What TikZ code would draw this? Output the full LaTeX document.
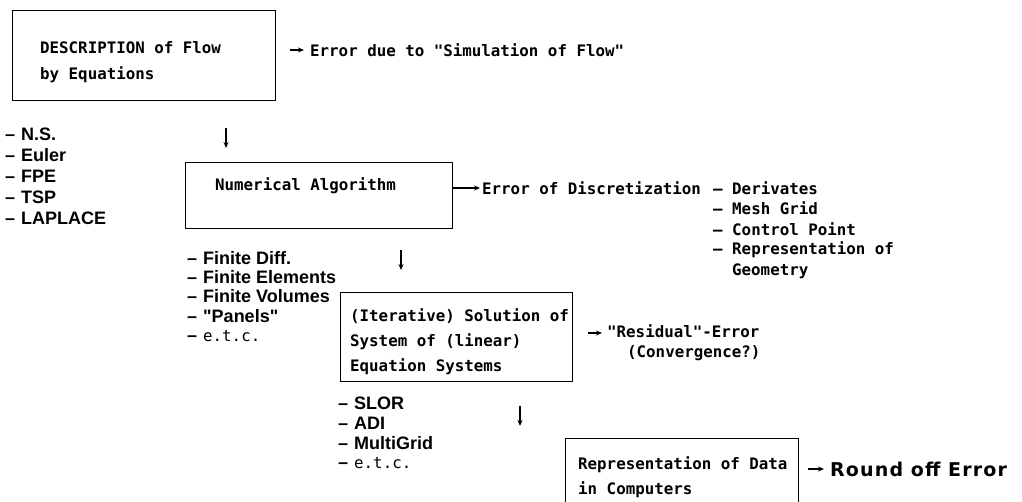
\documentclass[tikz,border=0pt]{standalone}
\usepackage{fontspec}
\setmainfont{Liberation Sans}
\newfontfamily\tw{DejaVu Sans Mono}
\newfontfamily\hs{Liberation Sans}
\newfontfamily\rb{DejaVu Sans}
\usetikzlibrary{arrows.meta}
\newcommand{\dsh}{–\hspace{6pt}}
\begin{document}
\begin{tikzpicture}[x=1pt,y=-1pt,
  box/.style={draw, line width=1.4pt, anchor=north west, inner sep=0pt},
  tt/.style={anchor=west, inner sep=0pt, font=\tw\bfseries\fontsize{15.8}{19}\selectfont},
  ls/.style={anchor=west, inner sep=0pt, font=\hs\bfseries\fontsize{18}{20}\selectfont},
  arr/.style={-{Stealth[length=6pt,width=5pt]}, line width=1.4pt},
]
\useasboundingbox (0,0) rectangle (1022,501);
\clip (0,0) rectangle (1022,501);
% Box 1
\node[box, minimum width=263pt, minimum height=90pt] (b1) at (12,10) {};
\node[tt] (b1a) at (40,48) {DESCRIPTION of Flow};
\node[tt] (b1b) at (40,75) {by Equations};
\coordinate (a1) at (290,50);
\node[tt] (e1) at (310,50) {Error due to "Simulation of Flow"};
\draw[arr, shorten >=6pt] (a1) -- (e1.west);
% left list
\node[ls] (l1a) at (5,134) {\dsh N.S.};
\node[ls] (l1b) at (5,155) {\dsh Euler};
\node[ls] (l1c) at (5,176) {\dsh FPE};
\node[ls] (l1d) at (5,197) {\dsh TSP};
\node[ls] (l1e) at (5,218) {\dsh LAPLACE};
\coordinate (d1s) at (226,128);
\coordinate (d1e) at (226,148);
\draw[arr] (d1s) -- (d1e);
% Box 2
\node[box, minimum width=267pt, minimum height=66pt] (b2) at (185,162) {};
\node[tt] (b2a) at (215,186) {Numerical Algorithm};
\node[tt] (e2) at (482,188) {Error of Discretization};
\draw[arr, shorten >=2pt] (b2.east |- e2.west) -- (e2.west);
\node[tt] (r1) at (713,188) {– Derivates};
\node[tt] (r2) at (713,208) {– Mesh Grid};
\node[tt] (r3) at (713,229) {– Control Point};
\node[tt] (r4) at (713,250) {– Representation of};
\node[tt] (r5) at (732,271) {Geometry};
% list 2
\node[ls] (l2a) at (187,258) {\dsh Finite Diff.};
\node[ls] (l2b) at (187,277) {\dsh Finite Elements};
\node[ls] (l2c) at (187,296) {\dsh Finite Volumes};
\node[ls] (l2d) at (187,316) {\dsh "Panels"};
\node[ls] (l2e) at (187,336) {\dsh{\tw\mdseries\fontsize{15.8}{19}\selectfont e.t.c.}};
\coordinate (d2s) at (401,250);
\coordinate (d2e) at (401,270);
\draw[arr] (d2s) -- (d2e);
% Box 3
\node[box, minimum width=232pt, minimum height=89pt] (b3) at (340,292) {};
\node[tt] (b3a) at (350,316) {(Iterative) Solution of};
\node[tt] (b3b) at (350,342) {System of (linear)};
\node[tt] (b3c) at (350,367) {Equation Systems};
\coordinate (a3) at (588,333);
\node[tt] (e3a) at (607,331) {"Residual"-Error};
\node[tt] (e3b) at (627,353) {(Convergence?)};
\draw[arr, shorten >=5pt] (a3) -- (a3 -| e3a.west);
% list 3
\node[ls] (l3a) at (338,403) {\dsh SLOR};
\node[ls] (l3b) at (338,423) {\dsh ADI};
\node[ls] (l3c) at (338,443) {\dsh MultiGrid};
\node[ls] (l3d) at (338,463) {\dsh{\tw\mdseries\fontsize{15.8}{19}\selectfont e.t.c.}};
\coordinate (d3s) at (520,406);
\coordinate (d3e) at (520,426);
\draw[arr] (d3s) -- (d3e);
% Box 4
\node[box, minimum width=233pt, minimum height=75pt] (b4) at (565,438) {};
\node[tt] (b4a) at (578,465) {Representation of Data};
\node[tt] (b4b) at (578,490) {in Computers};
\coordinate (a4) at (808,469);
\node[anchor=west, inner sep=0pt, font=\rb\bfseries\fontsize{19}{21}\selectfont\addfontfeature{LetterSpace=6}] (e4) at (830,469) {Round off Error};
\draw[arr, shorten >=6pt] (a4) -- (e4.west);
\end{tikzpicture}
\end{document}
